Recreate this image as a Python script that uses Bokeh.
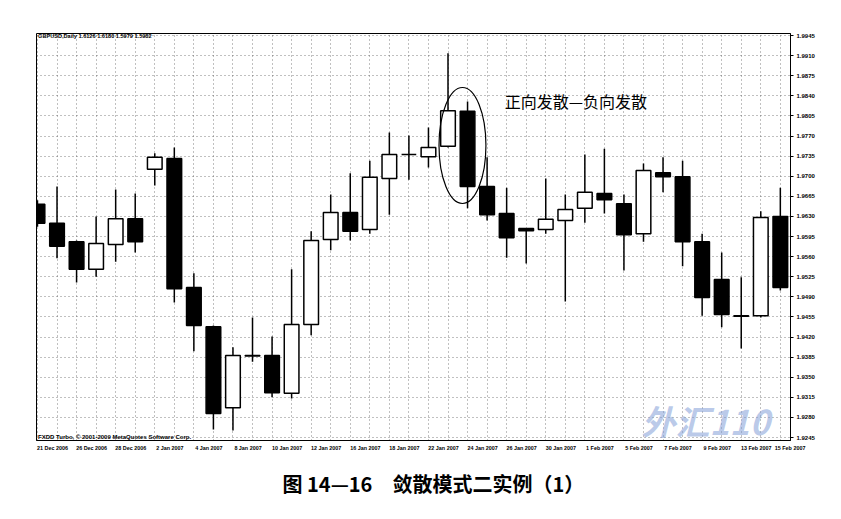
from bokeh.plotting import figure
from bokeh.models import (ColumnDataSource, Range1d, FixedTicker, PrintfTickFormatter,
                          Label, Title)
from bokeh.embed import file_html
from bokeh.resources import INLINE

# ---- data (GBPUSD daily, 21 Dec 2006 - 15 Feb 2007) ----
opens  = [1.9651, 1.9618, 1.9586, 1.9538, 1.9581, 1.9626, 1.9712, 1.9731, 1.9506, 1.9438,
          1.9297, 1.9388, 1.9388, 1.9322, 1.9442, 1.9590, 1.9637, 1.9607, 1.9696, 1.9738,
          1.9734, 1.9752, 1.9813, 1.9682, 1.9635, 1.9609, 1.9607, 1.9623, 1.9644, 1.9670,
          1.9652, 1.9600, 1.9706, 1.9699, 1.9586, 1.9520, 1.9457, 1.9457, 1.9630]
highs  = [1.9658, 1.9682, 1.9588, 1.9630, 1.9677, 1.9670, 1.9740, 1.9750, 1.9531, 1.9440,
          1.9402, 1.9454, 1.9421, 1.9538, 1.9604, 1.9668, 1.9705, 1.9727, 1.9776, 1.9771,
          1.9785, 1.9914, 1.9830, 1.9733, 1.9680, 1.9609, 1.9696, 1.9668, 1.9738, 1.9748,
          1.9668, 1.9722, 1.9733, 1.9727, 1.9600, 1.9567, 1.9524, 1.9639, 1.9680]
lows   = [1.9612, 1.9557, 1.9515, 1.9525, 1.9551, 1.9567, 1.9684, 1.9480, 1.9395, 1.9259,
          1.9257, 1.9377, 1.9315, 1.9313, 1.9423, 1.9571, 1.9588, 1.9600, 1.9633, 1.9694,
          1.9715, 1.9750, 1.9644, 1.9623, 1.9558, 1.9548, 1.9600, 1.9482, 1.9619, 1.9635,
          1.9536, 1.9586, 1.9672, 1.9543, 1.9457, 1.9437, 1.9400, 1.9454, 1.9501]
closes = [1.9618, 1.9578, 1.9538, 1.9583, 1.9626, 1.9586, 1.9733, 1.9504, 1.9440, 1.9287,
          1.9388, 1.9387, 1.9323, 1.9442, 1.9588, 1.9637, 1.9604, 1.9698, 1.9738, 1.9738,
          1.9750, 1.9814, 1.9682, 1.9633, 1.9593, 1.9605, 1.9625, 1.9642, 1.9672, 1.9659,
          1.9598, 1.9710, 1.9699, 1.9586, 1.9489, 1.9459, 1.9456, 1.9628, 1.9506]

date_labels = ["21 Dec 2006", "26 Dec 2006", "28 Dec 2006", "2 Jan 2007", "4 Jan 2007",
               "8 Jan 2007", "10 Jan 2007", "12 Jan 2007", "16 Jan 2007", "18 Jan 2007",
               "22 Jan 2007", "24 Jan 2007", "26 Jan 2007", "30 Jan 2007", "1 Feb 2007",
               "5 Feb 2007", "7 Feb 2007", "9 Feb 2007", "13 Feb 2007", "15 Feb 2007"]
price_levels = [1.9245, 1.9280, 1.9315, 1.9350, 1.9385, 1.9420, 1.9455, 1.9490, 1.9525,
                1.9560, 1.9595, 1.9630, 1.9665, 1.9700, 1.9735, 1.9770, 1.9805, 1.9840,
                1.9875, 1.9910, 1.9945]

header_text = "GBPUSD,Daily  1.6126 1.6180 1.5979 1.5982"
footer_text = "FXDD Turbo, © 2001-2009 MetaQuotes Software Corp."
note_text = "正向发散—负向发散"
caption_text = "图 14—16　敛散模式二实例（1）"

# ---- build sources ----
idx = list(range(len(opens)))
up = {"x": [], "top": [], "bottom": []}
dn = {"x": [], "top": [], "bottom": []}
for i, o, c in zip(idx, opens, closes):
    d = up if c >= o else dn
    d["x"].append(i)
    d["top"].append(max(o, c))
    d["bottom"].append(min(o, c))
wick = ColumnDataSource(dict(x=idx, high=highs, low=lows))
up_src = ColumnDataSource(up)
dn_src = ColumnDataSource(dn)

X_END = 38.52
p = figure(width=833, height=511, output_backend="svg", toolbar_location=None,
           x_range=Range1d(-0.05, X_END), y_range=Range1d(1.92398, 1.99485),
           y_axis_location="right", min_border_left=36, min_border_top=33,
           min_border_right=43, min_border_bottom=71)
p.background_fill_color = "white"
p.border_fill_color = "white"
p.outline_line_color = "black"
p.outline_line_width = 1

# grids
p.xgrid.ticker = FixedTicker(ticks=idx)
p.ygrid.ticker = FixedTicker(ticks=price_levels)
for g in (p.xgrid, p.ygrid):
    g.grid_line_color = "#555555"
    g.grid_line_dash = "1 3"
    g.grid_line_width = 1
    g.grid_line_alpha = 0.75

# x axis: labels start at their bar (MetaTrader style)
label_ticks = [min(i + 0.77, X_END - 0.02) for i in idx[::2]]
xa = p.xaxis[0]
xa.ticker = FixedTicker(ticks=label_ticks)
xa.major_label_overrides = {t: s for t, s in zip(label_ticks, date_labels)}
xa.major_tick_out = 0
xa.major_tick_in = 0
xa.minor_tick_out = 0
xa.major_label_standoff = 4
xa.major_label_text_font = "Liberation Sans"
xa.major_label_text_font_size = "5.4px"
xa.major_label_text_font_style = "bold"
xa.major_label_text_color = "black"
xa.axis_line_color = "black"

# y axis (right)
ya = p.yaxis[0]
ya.ticker = FixedTicker(ticks=price_levels)
ya.formatter = PrintfTickFormatter(format="%.4f")
ya.major_tick_out = 3
ya.major_tick_in = 0
ya.minor_tick_out = 0
ya.major_label_standoff = 3
ya.major_label_text_font = "Liberation Sans"
ya.major_label_text_font_size = "6px"
ya.major_label_text_font_style = "bold"
ya.major_label_text_color = "black"
ya.axis_line_color = "black"

# watermark (behind candles)
p.add_layout(Label(x=30.9, y=1.92746, text="外汇110", text_font="Noto Sans CJK SC",
                   text_font_size="34px", text_font_style="bold italic",
                   text_color="#7f9dd6", text_alpha=0.55, text_baseline="middle"))

# candles
p.segment(x0="x", y0="low", x1="x", y1="high", source=wick, line_color="black", line_width=1.5)
p.vbar(x="x", width=0.75, top="top", bottom="bottom", source=up_src,
       fill_color="white", line_color="black", line_width=1.5)
p.vbar(x="x", width=0.75, top="top", bottom="bottom", source=dn_src,
       fill_color="black", line_color="black", line_width=1.5)

# divergence ellipse around the two candles
p.ellipse(x=[21.74], y=[1.97535], width=[2.4], height=[0.0202],
          fill_color=None, line_color="black", line_width=1.2)

p.add_layout(Label(x=23.9, y=1.98318, text=note_text, text_font="Noto Sans CJK SC",
                   text_font_size="16px", text_color="black", text_baseline="middle"))
p.add_layout(Label(x=0.03, y=1.99433, text=header_text, text_font="Liberation Sans",
                   text_font_size="5.6px", text_font_style="bold", text_color="black",
                   text_baseline="middle"))
p.add_layout(Label(x=0.03, y=1.92467, text=footer_text, text_font="Liberation Sans",
                   text_font_size="6px", text_font_style="bold", text_color="black",
                   text_baseline="middle"))

cap = Title(text=caption_text, align="left", text_font="Noto Sans CJK SC",
            text_font_size="20px", text_font_style="bold", text_color="black",
            standoff=27, offset=246)
p.add_layout(cap, "below")

open("out.html", "w").write(file_html(p, INLINE))
